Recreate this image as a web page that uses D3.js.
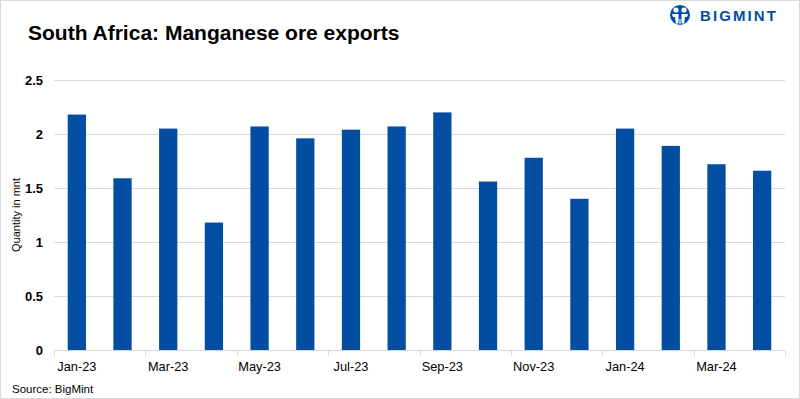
<!DOCTYPE html>
<html>
<head>
<meta charset="utf-8">
<script src="https://cdn.jsdelivr.net/npm/d3@7"></script>
<style>
  body { margin: 0; background: #fff; }
  svg { display: block; font-family: "Liberation Sans", Arial, sans-serif; }
</style>
</head>
<body>
<div id="container"></div>
<script>
const months = ["Jan-23","Feb-23","Mar-23","Apr-23","May-23","Jun-23","Jul-23","Aug-23",
                "Sep-23","Oct-23","Nov-23","Dec-23","Jan-24","Feb-24","Mar-24","Apr-24"];
const exportsMnt = [2.18, 1.59, 2.05, 1.18, 2.07, 1.96, 2.04, 2.07,
                    2.20, 1.56, 1.78, 1.40, 2.05, 1.89, 1.72, 1.66];
const yTicks = [0, 0.5, 1, 1.5, 2, 2.5];

const width = 800;
const height = 399;
const margin = {top: 80, right: 15, bottom: 49, left: 54};
const blue = "#034ea2";

const svg = d3.select("#container")
    .append("svg")
    .attr("width", width)
    .attr("height", height);

// frame
svg.append("rect")
    .attr("x", 0.5).attr("y", 0.5)
    .attr("width", width - 1).attr("height", height - 1)
    .attr("fill", "#fff")
    .attr("stroke", "#d9d9d9");

svg.append("text")
    .attr("x", 28).attr("y", 40)
    .style("font-size", "21px")
    .style("font-weight", "bold")
    .attr("fill", "#000")
    .text("South Africa: Manganese ore exports");

// logo
const logo = svg.append("g").attr("transform", "translate(680,15)");
logo.append("circle").attr("r", 10).attr("fill", blue);
logo.append("circle").attr("cx", -4).attr("cy", -5).attr("r", 2.6).attr("fill", "#fff");
logo.append("circle").attr("cx", 4).attr("cy", -5).attr("r", 2.6).attr("fill", "#fff");
logo.append("path")
    .attr("d", "M-8,-1 L-1.5,-1 L-1.5,8 L-4,9 L-5,2 L-7,2 Z M8,-1 L1.5,-1 L1.5,8 L4,9 L5,2 L7,2 Z")
    .attr("fill", "#fff");
logo.append("rect").attr("x", -0.6).attr("y", 4).attr("width", 1.2).attr("height", 5).attr("fill", "#fff");
svg.append("text")
    .attr("x", 700).attr("y", 21)
    .style("font-size", "15px")
    .style("font-weight", "bold")
    .style("letter-spacing", "2.1px")
    .attr("fill", blue)
    .text("BIGMINT");

const x = d3.scaleBand()
    .domain(months)
    .range([margin.left, width - margin.right])
    .paddingInner(0.6)
    .paddingOuter(0.3);

const y = d3.scaleLinear()
    .domain([0, 2.5])
    .range([height - margin.bottom, margin.top]);

// grid
svg.append("g")
    .selectAll("line")
    .data(yTicks.slice(1))
    .join("line")
    .attr("x1", margin.left)
    .attr("x2", width - margin.right)
    .attr("y1", d => Math.round(y(d)) + 0.5)
    .attr("y2", d => Math.round(y(d)) + 0.5)
    .attr("stroke", "#d9d9d9");

const yaxis = d3.axisLeft(y)
    .tickValues(yTicks)
    .tickFormat(d => d)
    .tickSize(0)
    .tickPadding(11);

svg.append("g")
    .attr("transform", "translate(" + margin.left + ",0)")
    .call(yaxis)
    .call(g => g.select(".domain").remove())
    .selectAll("text")
    .style("font-size", "13px")
    .style("font-weight", "bold")
    .attr("fill", "#000")
    .style("font-family", "Liberation Sans, Arial, sans-serif");

svg.append("text")
    .attr("transform", "translate(20," + y(1.25) + ") rotate(-90)")
    .attr("text-anchor", "middle")
    .style("font-size", "11px")
    .attr("fill", "#000")
    .text("Quantity in mnt");

// bars
svg.append("g")
    .selectAll("rect")
    .data(exportsMnt)
    .join("rect")
    .attr("x", (d, i) => x(months[i]))
    .attr("width", x.bandwidth())
    .attr("y", d => y(d))
    .attr("height", d => y(0) - y(d))
    .attr("fill", blue);

// x axis: baseline + ticks every two months
const x0 = margin.left;
const baseY = Math.round(y(0)) + 0.5;
const xg = svg.append("g");
xg.append("line")
    .attr("x1", x0).attr("x2", width - margin.right)
    .attr("y1", baseY).attr("y2", baseY)
    .attr("stroke", "#d9d9d9");
xg.selectAll(".tk")
    .data(d3.range(0, months.length + 1, 2))
    .join("line")
    .attr("class", "tk")
    .attr("x1", i => Math.round(x0 + i * (width - margin.right - x0) / months.length) + 0.5)
    .attr("x2", i => Math.round(x0 + i * (width - margin.right - x0) / months.length) + 0.5)
    .attr("y1", baseY).attr("y2", baseY + 5)
    .attr("stroke", "#d9d9d9");
xg.selectAll(".lbl")
    .data(months.filter((m, i) => i % 2 === 0))
    .join("text")
    .attr("class", "lbl")
    .attr("x", m => x(m) + x.bandwidth() / 2)
    .attr("y", 371)
    .attr("text-anchor", "middle")
    .style("font-size", "12.8px")
    .attr("fill", "#000")
    .text(m => m);

svg.append("text")
    .attr("x", 12).attr("y", 393)
    .style("font-size", "11.5px")
    .attr("fill", "#000")
    .text("Source: BigMint");
</script>
</body>
</html>
